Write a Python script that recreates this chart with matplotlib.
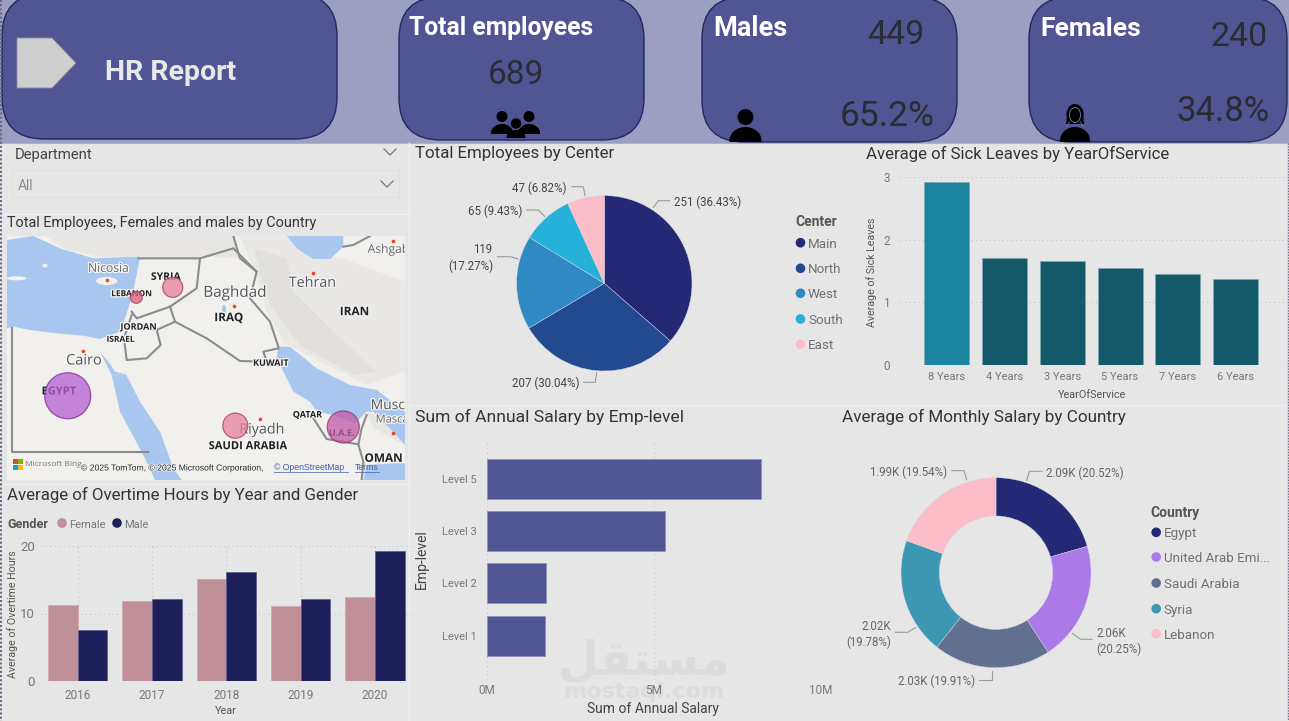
import matplotlib
matplotlib.use("Agg")
import matplotlib.pyplot as plt
import matplotlib.patheffects as pe
from matplotlib.patches import FancyBboxPatch, Polygon, Circle, Ellipse, Rectangle, Arc
import numpy as np

W, H = 1289, 721
plt.rcParams['font.family'] = ['Roboto', 'DejaVu Sans']

# --- data ---
kpi_total = 689
kpi_males = 449
kpi_females = 240

centers = ["Main", "North", "West", "South", "East"]
center_counts = [251, 207, 119, 65, 47]
center_colors = ["#252874", "#23498f", "#2f89c2", "#26b2d8", "#fcbdc9"]

service_years = ["8 Years", "4 Years", "3 Years", "5 Years", "7 Years", "6 Years"]
sick_leaves = [2.91, 1.71, 1.66, 1.54, 1.46, 1.38]

levels = ["Level 5", "Level 3", "Level 2", "Level 1"]
annual_salary = [8.21, 5.33, 1.77, 1.74]

countries = ["Egypt", "United Arab Emi...", "Saudi Arabia", "Syria", "Lebanon"]
monthly_salary = [2.09, 2.06, 2.03, 2.02, 1.99]
monthly_share = [20.52, 20.25, 19.91, 19.78, 19.54]
country_colors = ["#252874", "#ab79e8", "#627090", "#3c98b2", "#fcbdc9"]

years = ["2016", "2017", "2018", "2019", "2020"]
overtime_female = [11.26, 11.85, 15.06, 11.1, 12.45]
overtime_male = [7.55, 12.15, 16.1, 12.1, 19.26]

bubble_lon = [29.86, 54.03, 44.56, 39.07, 35.88]
bubble_lat = [26.48, 24.08, 24.18, 34.82, 34.05]
bubble_employees = [338, 164, 100, 64, 23]
bubble_fill = ["#b45fd0", "#c05aa8", "#e8809c", "#e8809c", "#d8607c"]
bubble_edge = ["#7d2a98", "#98306f", "#a83a60", "#a83a60", "#a83a60"]

PANEL = "#e6e6e6"
BAND = "#9d9fc2"
CARD = "#515593"
CARD_EDGE = "#23275f"
DARK = "#2b2b33"
TITLE = "#333338"
TICK = "#777777"
GRID = "#c4c4c4"
DOTS = (0, (1, 3))


def px_axes(x0, y0, x1, y1, **kw):
    return fig.add_axes([x0 / W, 1 - y1 / H, (x1 - x0) / W, (y1 - y0) / H], **kw)


def label(x, y, s, size=8, color=TICK, ha="left", va="center", **kw):
    # Roboto sits a little high when centred on its box
    return bg.text(x, y + 1.5, s, fontsize=size, color=color, ha=ha, va=va, **kw)


def leader(pts, color="#9a9a9a"):
    xs, ys = zip(*pts)
    bg.plot(xs, ys, color=color, lw=0.8, solid_capstyle="round")


def clean_axes(ax):
    ax.patch.set_alpha(0)
    for s in ax.spines.values():
        s.set_visible(False)
    ax.tick_params(length=0, labelsize=8, labelcolor=TICK)
    ax.set_axisbelow(True)


def legend_block(x, y, title, names, colors, ys):
    label(x, y, title, size=10, color="#555555", fontweight="bold")
    for name, col, yy in zip(names, colors, ys):
        bg.add_patch(Circle((x + 5.5, yy), 4.8, color=col, lw=0))
        label(x + 13, yy, name, size=9.6, color="#707070")


fig = plt.figure(figsize=(W / 100, H / 100), dpi=100)
fig.patch.set_facecolor(PANEL)

# full-size layer in pixel units for the page furniture
bg = fig.add_axes([0, 0, 1, 1], zorder=0)
bg.set_xlim(0, W)
bg.set_ylim(H, 0)
bg.axis("off")

bg.add_patch(Rectangle((0, 0), W, 143, color=BAND, lw=0))

cards = [(2, -6, 335, 145), (399, -3, 245, 143), (702, -3, 255, 145), (1029, -3, 258, 145)]
for x, y, w, h in cards:
    bg.add_patch(FancyBboxPatch((x, y), w, h, boxstyle="round,pad=0,rounding_size=42",
                                fc=CARD, ec=CARD_EDGE, lw=1))

bg.add_patch(Polygon([(17, 38), (52, 38), (76, 63), (52, 88), (17, 88)], fc="#cfcfcf", ec="#8a8aa8", lw=0.6))


# person icons: round head, shoulders flat at the bottom
def person(cx, head_y, head_r, top, bottom, w, col="black"):
    t = np.linspace(np.pi, 0, 30)
    arc = np.column_stack([cx + w / 2 * np.cos(t), top + (bottom - top) * 0.9 * (1 - np.sin(t))])
    outline = np.vstack([[cx - w / 2, bottom], arc, [cx + w / 2, bottom]])
    bg.add_patch(Polygon(outline, fc=col, ec="none"))
    bg.add_patch(Circle((cx, head_y), head_r, color=col, lw=0))


person(745.5, 117, 8, 127, 142, 32)

bg.add_patch(Polygon([(1068, 110), (1066, 124), (1084, 124), (1083, 110)], color="black", lw=0))
bg.add_patch(Ellipse((1075, 114), 17, 20, color="black", lw=0))
person(1075, 116, 6, 127, 142, 30)
bg.add_patch(Arc((1075, 115), 11, 15, theta1=0, theta2=360, color="#7c7ea6", lw=0.6))
bg.plot([1069.5, 1067], [122, 126], color="#7c7ea6", lw=0.6)
bg.plot([1080.5, 1083], [122, 126], color="#7c7ea6", lw=0.6)

person(502, 116.5, 5.5, 124, 134, 22)
person(529, 116.5, 5.5, 124, 134, 22)
person(516, 123.5, 5.5, 130, 138, 19)
bg.add_patch(Circle((516, 123.5), 5.8, fc="black", ec=CARD, lw=0.8))

# body panel below the header band
bg.add_patch(Rectangle((0, 142.5), W, H - 142.5, color=PANEL, lw=0))
bg.plot([0, W], [142.5, 142.5], color="#aeb0cd", lw=0.8)

label(409, 26, "Total employees", size=17.7, color="white", fontweight="bold")
label(713, 27, "Males", size=19.5, color="white", fontweight="bold")
label(1040, 27, "Females", size=19, color="white", fontweight="bold")
label(105, 71, "HR Report", size=20.5, color="#e8e8e8", fontweight="bold")
label(516, 74, f"{kpi_total}", size=24, color=DARK, ha="center")
label(896, 34, f"{kpi_males}", size=24.5, color=DARK, ha="center")
label(1239, 36, f"{kpi_females}", size=24.5, color=DARK, ha="center")
label(935, 115, f"{kpi_males / kpi_total * 100:.1f}%", size=25.5, color=DARK, ha="right")
label(1269, 110, f"{kpi_females / kpi_total * 100:.1f}%", size=25, color=DARK, ha="right")

# panel separators and window edge
for xs, ys in [([409, 409], [143, 721]), ([3, 408], [214, 214]), ([3, 408], [484, 484]), ([410, 1285], [404.5, 404.5])]:
    bg.plot(xs, ys, color="#f0f0f0", lw=1)
bg.plot([1, 1], [0, H], color="#6a6a85", lw=1.5, ls=(0, (1, 1)))
bg.plot([1287.5, 1287.5], [143, H], color="#6a6a85", lw=1, ls=(0, (1, 1)))

# department slicer
label(15, 153, "Department", size=10.7, color="#444444")
label(18, 184.5, "All", size=10, color="#8a8a8a")
bg.add_patch(Rectangle((12, 170), 387, 27, fc="none", ec="#dedede", lw=0.8))
for cx, cy in [(390, 152), (387, 184)]:
    bg.plot([cx - 6, cx, cx + 6], [cy - 3, cy + 3, cy - 3], color="#777777", lw=0.9)

# chart titles
label(7, 222, "Total Employees, Females and males by Country", size=10.4, color=TITLE)
label(7, 493, "Average of Overtime Hours by Year and Gender", size=12.2, color=TITLE)
label(415, 152, "Total Employees by Center", size=12.2, color=TITLE)
label(866, 152, "Average of Sick Leaves by YearOfService", size=12.1, color=TITLE)
label(415, 415, "Sum of Annual Salary by Emp-level", size=12.6, color=TITLE)
label(842, 415, "Average of Monthly Salary by Country", size=12.3, color=TITLE)

# --- map ---
ax_map = px_axes(7, 236, 405, 480, zorder=1)
ax_map.set_xlim(7, 405)
ax_map.set_ylim(480, 236)
ax_map.set_xticks([])
ax_map.set_yticks([])
for s in ax_map.spines.values():
    s.set_visible(False)
ax_map.set_facecolor("#f1f0ed")


def tile(pts):
    # basemap outlines are kept in third-of-a-pixel units
    return [(x / 3, 215 + y / 3) for x, y in pts]


RELIEF = "#d4d2cf"
for shape, alpha in [
    ([(140, 63), (700, 63), (720, 130), (600, 125), (420, 125), (290, 125), (190, 100)], 0.3),
    ([(720, 63), (860, 63), (890, 105), (1040, 135), (1215, 200), (1215, 470), (1100, 510), (960, 440), (850, 380), (800, 290), (770, 180)], 0.25),
    ([(760, 100), (860, 130), (880, 230), (1000, 350), (1130, 470), (1060, 480), (900, 390), (810, 270)], 0.35),
    ([(1100, 590), (1215, 640), (1215, 690), (1120, 640)], 0.3),
]:
    ax_map.add_patch(Polygon(tile(shape), fc=RELIEF, ec="none", alpha=alpha))

WATER = "#a9c7ee"
for shape in [
    [(20, 75), (100, 63), (180, 100), (280, 130), (420, 125), (410, 180), (395, 250), (378, 300), (360, 350),
     (300, 372), (250, 362), (170, 355), (90, 345), (40, 335), (20, 340)],
    [(860, 63), (1030, 63), (1030, 95), (990, 132), (940, 132), (890, 100)],
    [(300, 410), (335, 480), (378, 478), (345, 470), (325, 440)],
    [(335, 480), (378, 478), (420, 560), (480, 650), (520, 760), (545, 795), (465, 795), (430, 720), (360, 590)],
    [(835, 395), (870, 395), (950, 460), (1050, 510), (1130, 525), (1215, 590), (1215, 690), (1180, 650), (1120, 590),
     (1100, 590), (1065, 625), (1000, 600), (950, 590), (930, 560), (880, 530), (850, 470), (830, 430)],
    [(1215, 745), (1215, 795), (1090, 795), (1100, 750), (1180, 745)],
]:
    ax_map.add_patch(Polygon(tile(shape), fc=WATER, ec="none"))

for cx, cy, rx, ry in [(320, 198, 32, 12), (50, 190, 30, 6), (135, 152, 8, 6)]:
    ax_map.add_patch(Ellipse(tile([(cx, cy)])[0], rx * 2 / 3, ry * 2 / 3, fc="#f2f1ee", ec="none"))
ax_map.add_patch(Ellipse(tile([(672, 283)])[0], 4, 9, fc=WATER, ec="none"))

borders = [
    [(35, 340), (35, 712), (445, 712)],
    [(415, 130), (600, 130), (700, 100), (770, 170), (750, 250), (810, 320), (835, 395)],
    [(700, 63), (720, 130), (770, 170)],
    [(600, 130), (590, 220), (510, 275), (410, 310), (395, 290)],
    [(510, 275), (525, 320), (470, 345), (395, 335)],
    [(525, 320), (620, 370), (720, 438), (800, 440), (790, 410), (835, 400)],
    [(470, 345), (482, 390), (440, 430), (380, 435), (372, 370), (395, 300)],
    [(940, 610), (980, 672), (1075, 688), (1090, 740), (1085, 795)],
    [(1075, 688), (1085, 640), (1100, 600)],
    [(1030, 95), (1060, 90), (1110, 63)],
]
for line in borders:
    xs, ys = zip(*tile(line))
    ax_map.plot(xs, ys, color="#8b8b8b", lw=1.5, solid_joinstyle="round")

city_x, city_y = zip(*tile([(322, 195), (940, 175), (702, 273), (248, 407), (780, 612), (1180, 655), (1180, 78)]))
ax_map.scatter(city_x, city_y, s=7, color="#e8452c", lw=0, zorder=3)

halo = [pe.withStroke(linewidth=1.8, foreground="#f5f5f5")]
place_names = [(325, 160, "Nicosia", 8.7, "normal", "#666666", "center"), (1103, 103, "Ashgabat", 8.7, "normal", "#666666", "left"),
               (937, 205, "Tehran", 10.3, "normal", "#555555", "center"), (705, 235, "Baghdad", 11, "normal", "#555555", "center"),
               (252, 438, "Cairo", 10.5, "normal", "#555555", "center"), (785, 645, "Riyadh", 10.3, "normal", "#555555", "center"),
               (1112, 572, "Muscat", 10, "normal", "#555555", "left"), (1127, 615, "Mascat", 8, "normal", "#666666", "left"),
               (686, 308, "IRAQ", 8.5, "bold", "#222222", "center"), (1063, 290, "IRAN", 8.5, "bold", "#222222", "center"),
               (497, 187, "SYRIA", 7.5, "bold", "#222222", "center"), (395, 236, "LEBANON", 6, "bold", "#222222", "center"),
               (415, 337, "JORDAN", 6.5, "bold", "#222222", "center"), (362, 373, "ISRAEL", 6, "bold", "#222222", "center"),
               (177, 531, "EGYPT", 8, "bold", "#222222", "center"), (812, 445, "KUWAIT", 6.5, "bold", "#222222", "center"),
               (922, 600, "QATAR", 6.5, "bold", "#222222", "center"), (744, 695, "SAUDI ARABIA", 8, "bold", "#222222", "center"),
               (1025, 655, "U.A.E.", 6.5, "bold", "#222222", "center"), (1150, 730, "OMAN", 8.5, "bold", "#222222", "center")]
for zx, zy, s, size, weight, col, ha in place_names:
    px, py = tile([(zx, zy)])[0]
    ax_map.text(px, py, s, fontsize=size, fontweight=weight, color=col, ha=ha, va="center", family="Open Sans",
                path_effects=halo, zorder=3, clip_on=True)

# lon/lat to map pixels, fitted on the city markers
map_x = 83 + (np.array(bubble_lon) - 31.2) * 11.4
map_y = 350 - (np.array(bubble_lat) - 30) * 13
ax_map.scatter(map_x, map_y, s=3.25 * np.array(bubble_employees), c=bubble_fill, edgecolors=bubble_edge, linewidths=0.9,
               alpha=0.75, zorder=4)

for (x, y), col in zip([(12.5, 459.5), (18, 459.5), (12.5, 465), (18, 465)], ["#d8502a", "#7fba00", "#00a4ef", "#ffb900"]):
    ax_map.add_patch(Rectangle((x, y), 5, 5, color=col, lw=0, zorder=5))
ax_map.text(25, 465, "Microsoft Bing", fontsize=6, color="#777777", va="center", family="Open Sans", zorder=5)
ax_map.text(81, 468, "© 2025 TomTom, © 2025 Microsoft Corporation, ", fontsize=6.2, color="#222222", va="center",
            family="Liberation Sans", path_effects=[pe.withStroke(linewidth=1.2, foreground="#f5f5f5")], zorder=5)
ax_map.text(274, 468, "© OpenStreetMap", fontsize=6.2, color="#3a60a8", va="center", family="Liberation Sans", zorder=5)
ax_map.plot([274, 348], [472, 472], color="#3a60a8", lw=0.5, zorder=5)
ax_map.text(355, 468, "Terms", fontsize=6.2, color="#3a60a8", va="center", family="Liberation Sans", zorder=5)
ax_map.plot([355, 379], [472, 472], color="#3a60a8", lw=0.5, zorder=5)

# --- overtime by year and gender ---
ax = px_axes(40.5, 546, 412, 681, zorder=1)
clean_axes(ax)
x = np.arange(len(years))
ax.bar(x - 0.2, overtime_female, 0.4, color="#bf9097", edgecolor="#d0aab0", linewidth=0.5)
ax.bar(x + 0.2, overtime_male, 0.4, color="#1c1f5a", edgecolor="#5a5c8e", linewidth=0.5)
ax.set_xlim(-0.5, 4.5)
ax.set_ylim(0, 20)
ax.set_xticks(x, years)
ax.set_yticks([0, 10, 20])
ax.tick_params(axis="y", labelsize=9.5, pad=4)
ax.tick_params(axis="x", labelsize=8.5, pad=6)
ax.grid(True, linestyle=DOTS, color=GRID, linewidth=0.8)
label(13, 613, "Average of Overtime Hours", size=7.7, color="#555555", rotation=90, ha="center")
label(226, 709, "Year", size=7.8, color="#555555", ha="center")
label(7, 523, "Gender", size=9, color="#555555", fontweight="bold")
bg.add_patch(Circle((62, 523), 4.8, color="#bf9097", lw=0))
label(69, 523, "Female", size=8, color="#777777")
bg.add_patch(Circle((117, 523), 4.8, color="#1c1f5a", lw=0))
label(124, 523, "Male", size=8, color="#777777")

# --- employees by center ---
cx, cy, r = 604.3, 283.3, 87.7
ax = px_axes(cx - r, cy - r, cx + r, cy + r, zorder=1)
ax.pie(center_counts, colors=center_colors, startangle=90, counterclock=False, radius=1,
       wedgeprops=dict(edgecolor="#d8d8e6", linewidth=0.3))
ax.set_xlim(-1, 1)
ax.set_ylim(-1, 1)

total_center = sum(center_counts)
center_text = [f"{v} ({v / total_center * 100:.2f}%)" for v in center_counts]
PIE_TEXT = "#444444"
label(674.3, 200.5, center_text[0], size=8.3, color=PIE_TEXT)
label(579, 381.7, center_text[1], size=8.3, color=PIE_TEXT, ha="right")
label(483, 248, f"{center_counts[2]}", size=8.3, color=PIE_TEXT, ha="center")
label(493, 265, f"({center_counts[2] / total_center * 100:.2f}%)", size=8.3, color=PIE_TEXT, ha="right")
label(522.7, 210, center_text[3], size=8.3, color=PIE_TEXT, ha="right")
label(567, 187, center_text[4], size=8.3, color=PIE_TEXT, ha="right")
leader([(653.3, 207.7), (658.3, 200.7), (670, 200.7)])
leader([(596.7, 372.7), (595.3, 382.3), (583.3, 382.3)])
leader([(518.3, 259), (510, 256.7), (497.3, 256.7)])
leader([(545, 216.7), (538.3, 210), (526.7, 210)])
leader([(585, 195.7), (583.3, 186.7), (571.7, 186.7)])
legend_block(795, 221, "Center", centers, center_colors, [242.7, 268.3, 293.3, 319, 344.3])

# --- sick leaves ---
ax = px_axes(900, 176.7, 1288, 365.3, zorder=1)
clean_axes(ax)
x = np.arange(len(service_years))
ax.bar(x, sick_leaves, 0.777, color=["#1b85a0"] + ["#14596a"] * 5, edgecolor="#7fa7b2", linewidth=0.5)
ax.set_xlim(-0.8, 5.9)
ax.set_ylim(0, 3)
ax.set_xticks(x, service_years)
ax.set_yticks([0, 1, 2, 3])
ax.tick_params(axis="y", labelsize=8.5, pad=7)
ax.tick_params(axis="x", labelsize=8, pad=5)
ax.grid(True, axis="y", linestyle=DOTS, color=GRID, linewidth=0.8)
label(871.5, 270.7, "Average of Sick Leaves", size=7.7, color="#555555", rotation=90, ha="center")
label(1091.7, 393, "YearOfService", size=7.8, color="#555555", ha="center")

# --- annual salary by level ---
ax = px_axes(486.7, 441.7, 820.3, 680, zorder=1)
clean_axes(ax)
y = np.arange(len(levels))
ax.barh(y, annual_salary, 0.765, color=CARD, edgecolor="#8f92bd", linewidth=0.6)
ax.set_xlim(0, 10)
ax.set_ylim(3.849, -0.707)
ax.set_yticks(y, levels)
ax.set_xticks([0, 5, 10], ["0M", "5M", "10M"])
ax.tick_params(axis="y", labelsize=8, pad=7)
ax.tick_params(axis="x", labelsize=8.5, pad=3)
ax.grid(True, axis="x", linestyle=DOTS, color=GRID, linewidth=0.8)

# site mark across the salary panel
label(644, 660, "\ufede\ufed8\ufe98\ufeb4\ufee3", size=34, color="#dcdcdc", ha="center", family="DejaVu Sans", fontweight="bold")
label(644, 690, "mostaql.com", size=16, color="#dcdcdc", ha="center", family="DejaVu Sans", fontweight="bold")

label(653.3, 707, "Sum of Annual Salary", size=10, color="#444444", ha="center")
label(422, 558, "Emp-level", size=10, color="#444444", rotation=90, ha="center")

# --- monthly salary donut ---
cx, cy, r = 996, 572.7, 95
ax = px_axes(cx - r, cy - r, cx + r, cy + r, zorder=1)
ax.pie(monthly_share, colors=country_colors, startangle=90, counterclock=False, radius=1,
       wedgeprops=dict(width=0.403, edgecolor="#d8d8e6", linewidth=0.3))
ax.set_xlim(-1, 1)
ax.set_ylim(-1, 1)

DONUT_TEXT = "#666666"
label(1046, 471.7, f"{monthly_salary[0]:.2f}K ({monthly_share[0]:.2f}%)", size=8.3, color=DONUT_TEXT)
label(1096, 631.7, f"{monthly_salary[1]:.2f}K", size=8.3, color=DONUT_TEXT)
label(1096, 648, f"({monthly_share[1]:.2f}%)", size=8.3, color=DONUT_TEXT)
label(974.7, 679.7, f"{monthly_salary[2]:.2f}K ({monthly_share[2]:.2f}%)", size=8.3, color=DONUT_TEXT, ha="right")
label(891, 625, f"{monthly_salary[3]:.2f}K", size=8.3, color=DONUT_TEXT, ha="right")
label(891, 640.7, f"({monthly_share[3]:.2f}%)", size=8.3, color=DONUT_TEXT, ha="right")
label(947.3, 470.7, f"{monthly_salary[4]:.2f}K ({monthly_share[4]:.2f}%)", size=8.3, color=DONUT_TEXT, ha="right")
leader([(1026.7, 480.7), (1029.3, 471.3), (1042.3, 471.3)])
leader([(1072.3, 633.3), (1080.7, 639.3), (1092.3, 639.3)])
leader([(991.7, 670.7), (991.7, 680), (979.3, 680)])
leader([(916, 627.3), (907.7, 632.3), (895, 632.3)])
leader([(966.7, 480), (964, 470.7), (951.7, 470.7)])
legend_block(1150.7, 511, "Country", countries, country_colors, [532.3, 557, 583, 608.7, 633.7])

plt.savefig("out.png", dpi=100, facecolor=fig.get_facecolor())
